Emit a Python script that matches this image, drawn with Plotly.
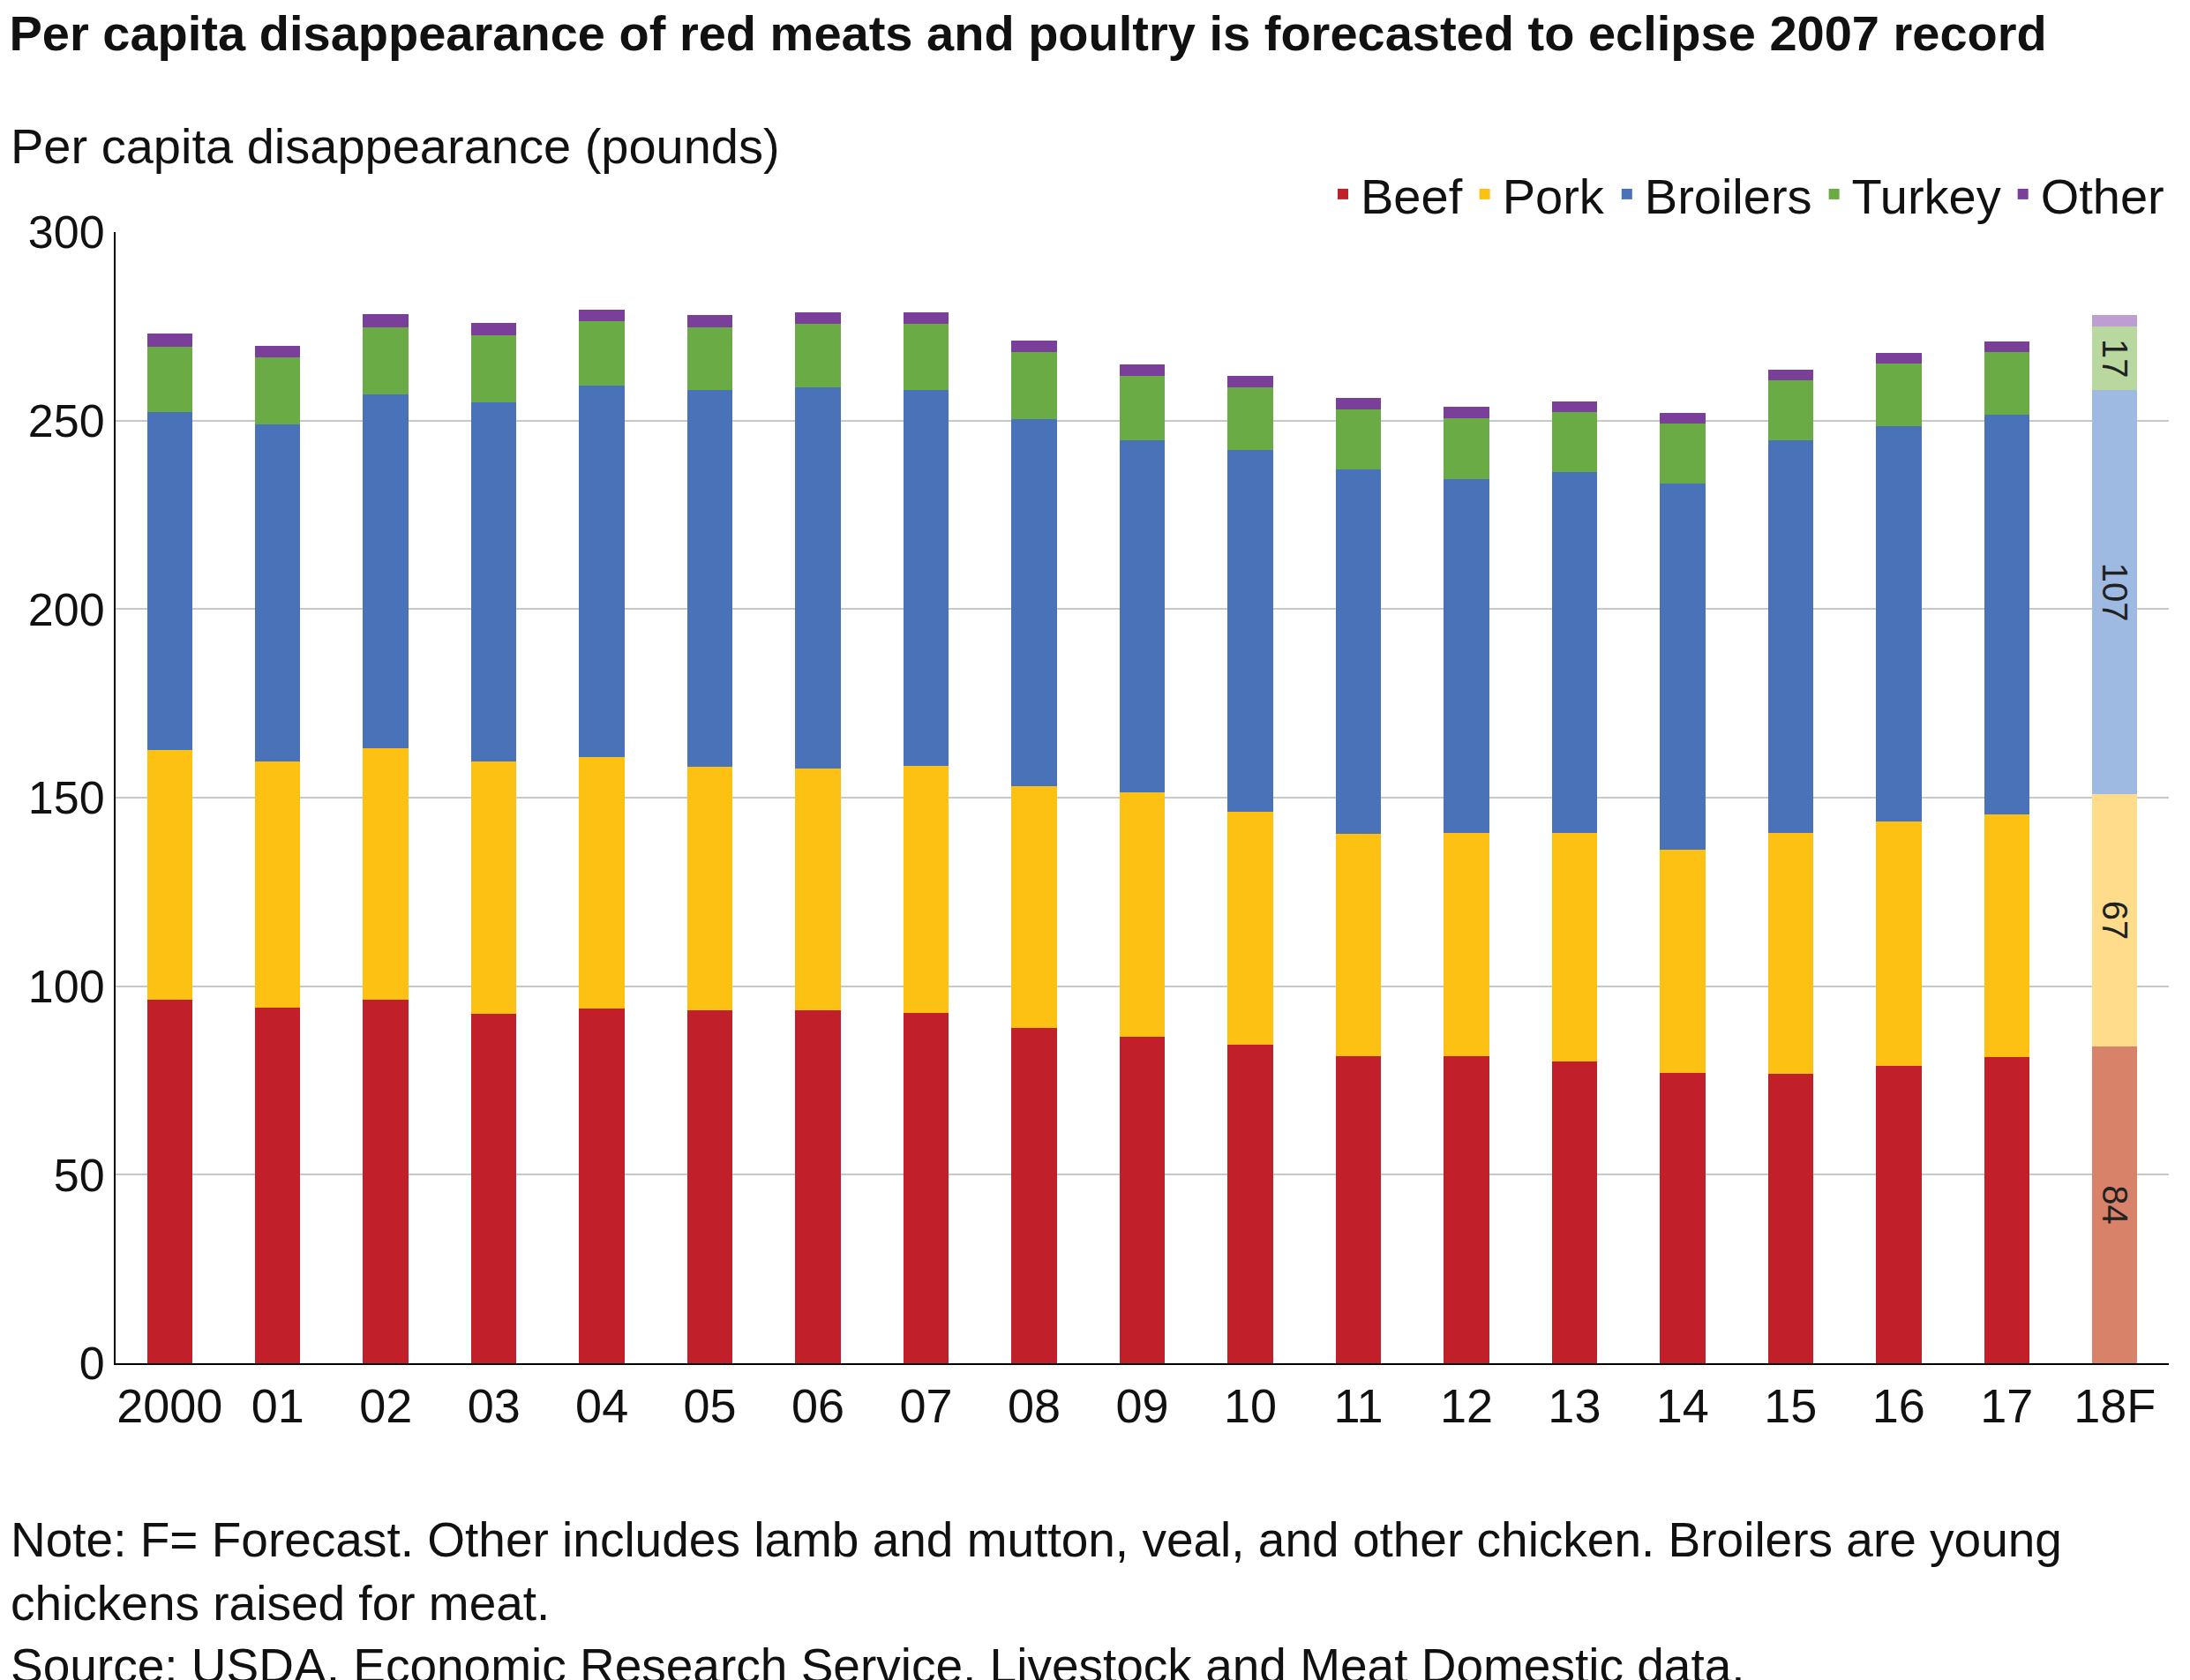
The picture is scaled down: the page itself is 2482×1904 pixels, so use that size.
import plotly.graph_objects as go

years = ["2000", "01", "02", "03", "04", "05", "06", "07", "08", "09",
         "10", "11", "12", "13", "14", "15", "16", "17", "18F"]
beef = [96.3, 94.4, 96.3, 92.6, 94.1, 93.7, 93.7, 93.0, 88.9, 86.7,
        84.4, 81.5, 81.5, 80.0, 77.0, 76.7, 78.9, 81.1, 84]
pork = [66.3, 65.2, 66.7, 67.0, 66.6, 64.4, 64.1, 65.5, 64.1, 64.8,
        61.9, 58.9, 59.2, 60.7, 59.3, 64.0, 64.8, 64.5, 67]
broilers = [89.6, 89.3, 94.0, 95.2, 98.6, 100.0, 101.1, 99.6, 97.4, 93.3,
            95.9, 96.6, 93.7, 95.6, 97.0, 104.1, 104.8, 105.9, 107]
turkey = [17.4, 17.8, 17.8, 17.8, 17.0, 16.7, 16.7, 17.5, 17.7, 17.1,
          16.7, 16.0, 16.3, 15.9, 16.0, 15.9, 16.7, 16.6, 17]
other = [3.4, 3.2, 3.4, 3.2, 3.2, 3.3, 3.2, 3.1, 3.1, 3.0,
         3.0, 3.0, 2.9, 2.8, 2.8, 2.8, 2.8, 2.8, 3]

series = [
    ("Beef", beef, "#c1202a", "#d9826a"),
    ("Pork", pork, "#fcc112", "#fedc8c"),
    ("Broilers", broilers, "#4a72b8", "#9fbae2"),
    ("Turkey", turkey, "#6bab45", "#b8d8a0"),
    ("Other", other, "#7a3f98", "#bc9fd0"),
]

fig = go.Figure()
n = len(years)
for name, vals, col, light in series:
    colors = [col] * (n - 1) + [light]
    text = [""] * (n - 1) + ([f"{vals[-1]:.0f}"] if name != "Other" else [""])
    fig.add_trace(go.Bar(
        x=years, y=vals, name=name,
        marker=dict(color=colors, line=dict(width=0)),
        text=text, textposition="inside", textangle=90,
        insidetextanchor="middle",
        textfont=dict(size=40, color="#222"),
        hoverinfo="y",
    ))

fig.update_layout(
    barmode="stack",
    bargap=0.58,
    width=2482, height=1904,
    margin=dict(l=123, r=32, t=255, b=367),
    plot_bgcolor="white", paper_bgcolor="white",
    font=dict(family="Liberation Sans, Arial, sans-serif", size=52, color="#111"),
    uniformtext=dict(mode="show", minsize=36),
    title=dict(text="<b>Per capita disappearance of red meats and poultry is forecasted to eclipse 2007 record</b>",
               x=0.001, xanchor="left", y=0.995, yanchor="top", font=dict(size=56)),
    legend=dict(orientation="h", x=1, xanchor="right", y=1.0, yanchor="bottom",
                font=dict(size=56), traceorder="normal", itemwidth=30),
    yaxis=dict(range=[0, 300], dtick=50, showgrid=True, gridcolor="#c8c8c8", gridwidth=2,
               showline=True, linecolor="black", linewidth=2, ticks="",
               tickfont=dict(size=52), zeroline=False),
    xaxis=dict(showline=True, linecolor="black", linewidth=2, ticks="",
               tickfont=dict(size=54)),
)

fig.add_annotation(text="Per capita disappearance (pounds)", xref="paper", yref="paper",
                   x=-0.052, y=1.05, xanchor="left", yanchor="bottom",
                   showarrow=False, font=dict(size=56))
fig.add_annotation(
    text="Note: F= Forecast. Other includes lamb and mutton, veal, and other chicken. Broilers are young<br>"
         "chickens raised for meat.<br>"
         "Source: USDA, Economic Research Service, Livestock and Meat Domestic data.",
    xref="paper", yref="paper", x=-0.052, y=-0.13, xanchor="left", yanchor="top",
    align="left", showarrow=False, font=dict(size=55))

fig.write_html("out.html")
